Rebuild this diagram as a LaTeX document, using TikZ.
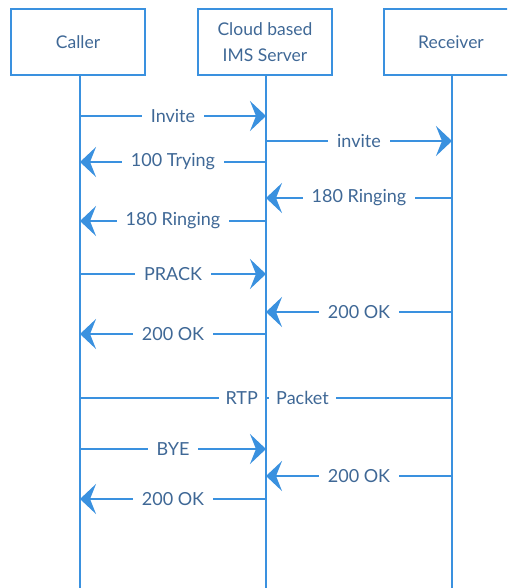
\documentclass[tikz,border=0pt]{standalone}
\usepackage{fontspec}
\setmainfont{Lato}
\usetikzlibrary{arrows.meta}
\definecolor{lineblue}{HTML}{3A91DF}
\definecolor{textblue}{HTML}{3F6896}
\begin{document}
\begin{tikzpicture}[x=1pt,y=-1pt,
  actor/.style={draw=lineblue,line width=2.6pt,minimum width=134pt,minimum height=66pt,
    text=textblue,font=\fontsize{17.5}{26}\selectfont,align=center,inner sep=0pt},
  life/.style={draw=lineblue,line width=2.6pt},
  msg/.style={draw=lineblue,line width=2.4pt,-{Stealth[length=16pt,width=30pt,inset=6pt]}},
  plain/.style={draw=lineblue,line width=2.4pt},
  lbl/.style={fill=white,text=textblue,font=\fontsize{18}{20}\selectfont,inner xsep=9pt,inner ysep=2pt}]
\useasboundingbox (0,0) rectangle (507,588);
\clip (0,0) rectangle (507,588);
% actors
\node[actor] (caller) at (78,42) {Caller};
\node[actor] (server) at (265,42) {Cloud based\\IMS Server};
\node[actor] (recv) at (451,42) {Receiver};
% lifeline ends
\coordinate (cb) at (80,600);
\coordinate (sb) at (266,600);
\coordinate (rb) at (452,600);
\draw[life] (caller.south -| cb) -- (cb);
\draw[life] (server.south -| sb) -- (sb);
\draw[life] (recv.south -| rb) -- (rb);
% message anchor points
\foreach \n/\y in {1/116,2/141,3/162,4/198,5/221,6/274,7/312,8/334,9/398,10/449,11/476,12/499}{
  \coordinate (c\n) at (80,\y);
  \coordinate (s\n) at (266,\y);
  \coordinate (r\n) at (452,\y);
}
\draw[msg] (c1) -- node[lbl]{Invite} (s1);
\draw[msg] (s2) -- node[lbl]{invite} (r2);
\draw[msg] (s3) -- node[lbl]{100 Trying} (c3);
\draw[msg] (r4) -- node[lbl]{180 Ringing} (s4);
\draw[msg] (s5) -- node[lbl]{180 Ringing} (c5);
\draw[msg] (c6) -- node[lbl]{PRACK} (s6);
\draw[msg] (r7) -- node[lbl]{200 OK} (s7);
\draw[msg] (s8) -- node[lbl]{200 OK} (c8);
\draw[plain] (c9) -- (r9);
\node[lbl,anchor=east,inner xsep=7pt] (rtp) at ([xshift=-1pt]s9) {RTP};
\node[lbl,anchor=west,inner xsep=7pt] (pkt) at ([xshift=3pt]s9) {Packet};
\draw[life] (s9) ++(0,-16) -- ++(0,32);
\draw[msg] (c10) -- node[lbl]{BYE} (s10);
\draw[msg] (r11) -- node[lbl]{200 OK} (s11);
\draw[msg] (s12) -- node[lbl]{200 OK} (c12);
\end{tikzpicture}
\end{document}
